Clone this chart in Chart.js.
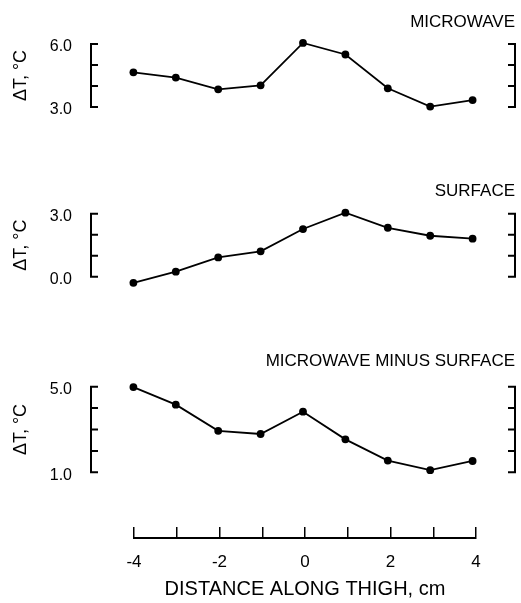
<!DOCTYPE html>
<html>
<head>
<meta charset="utf-8">
<script src="https://cdn.jsdelivr.net/npm/chart.js@4/dist/chart.umd.min.js"></script>
<style>
  body { margin: 0; background: #fff; }
  #wrap { position: relative; width: 521px; height: 603px; }
  canvas { position: absolute; left: 0; }
</style>
</head>
<body>
<div id="wrap">
  <canvas id="c1" width="521" height="150" style="top:0px"></canvas>
  <canvas id="c2" width="521" height="170" style="top:150px"></canvas>
  <canvas id="c3" width="521" height="220" style="top:300px"></canvas>
  <canvas id="c4" width="521" height="103" style="top:500px"></canvas>
</div>
<script>
// distance along thigh, cm
const distances = [-4, -3, -2, -1, 0, 1, 2, 3, 4];

// temperature rise, deg C
const microwave  = [4.65, 4.4, 3.84, 4.03, 6.05, 5.5, 3.89, 3.02, 3.33];
const surface    = [-0.29, 0.24, 0.92, 1.21, 2.27, 3.05, 2.33, 1.95, 1.81];
const difference = [4.98, 4.16, 2.94, 2.79, 3.83, 2.54, 1.55, 1.1, 1.53];

// y axis ranges (first and last are labelled), ticks every 1 deg
const microwaveRange  = [3, 6];
const surfaceRange    = [0, 3];
const differenceRange = [1, 5];
const Y_STEP = 1;

const xTickLabels = ["-4", "-2", "0", "2", "4"];

// extra room round each y range so end points are not cut off
const MARGIN = 0.4;

const FONT = "'Liberation Sans', Arial, sans-serif";
Chart.defaults.font.family = FONT;
Chart.defaults.color = "#000";

// bracket style axes: both vertical lines and inward ticks
const bracketTicks = {
    id: "bracketTicks",
    afterDraw(chart) {
        const y = chart.scales.y;
        const a = chart.chartArea;
        const ctx = chart.ctx;
        const range = chart.options.plugins.bracketTicks.range;
        const top = y.getPixelForValue(range[1]);
        const bottom = y.getPixelForValue(range[0]);
        ctx.save();
        ctx.strokeStyle = "#000";
        ctx.lineWidth = 2;
        ctx.beginPath();
        ctx.moveTo(a.left, top - 1);
        ctx.lineTo(a.left, bottom + 1);
        ctx.moveTo(a.right, top - 1);
        ctx.lineTo(a.right, bottom + 1);
        y.ticks.forEach(t => {
            const py = y.getPixelForValue(t.value);
            ctx.moveTo(a.left, py);
            ctx.lineTo(a.left + 7, py);
            ctx.moveTo(a.right - 7, py);
            ctx.lineTo(a.right, py);
        });
        ctx.stroke();
        ctx.restore();
    }
};

function panel(id, title, values, range, pad, titlePad) {
    return new Chart(document.getElementById(id), {
        type: "line",
        data: {
            datasets: [{
                data: distances.map((d, i) => ({ x: d, y: values[i] })),
                borderColor: "#000",
                borderWidth: 1.8,
                pointRadius: 3.9,
                pointBackgroundColor: "#000",
                pointBorderWidth: 0,
                tension: 0,
                clip: false
            }]
        },
        options: {
            responsive: false,
            animation: false,
            layout: { padding: pad },
            plugins: {
                legend: { display: false },
                tooltip: { enabled: false },
                bracketTicks: { range: range },
                title: {
                    display: true,
                    text: title,
                    align: "end",
                    color: "#000",
                    font: { size: 17, weight: "normal" },
                    padding: titlePad
                }
            },
            scales: {
                x: { type: "linear", min: -5, max: 5, display: false },
                y: {
                    min: range[0] - MARGIN,
                    max: range[1] + MARGIN,
                    afterFit: s => { s.width = 91; },
                    afterBuildTicks: s => {
                        const ticks = [];
                        for (let v = range[0]; v <= range[1] + 1e-9; v += Y_STEP) ticks.push({ value: v });
                        s.ticks = ticks;
                    },
                    ticks: {
                        autoSkip: false,
                        padding: 19,
                        labelOffset: 3,
                        font: { size: 16 },
                        callback: v => (v === range[0] || v === range[1]) ? v.toFixed(1) : ""
                    },
                    grid: { drawOnChartArea: false, drawTicks: false },
                    border: { display: false },
                    title: {
                        display: true,
                        text: "ΔT, °C",
                        font: { size: 18 },
                        padding: { top: 10.7, bottom: 0 }
                    }
                }
            }
        },
        plugins: [bracketTicks]
    });
}

panel("c1", "MICROWAVE", microwave, microwaveRange,
    { top: 0, right: 6, bottom: 34.6, left: 0 }, { top: 12, bottom: 3.2 });
panel("c2", "SURFACE", surface, surfaceRange,
    { top: 0, right: 6, bottom: 34.9, left: 0 }, { top: 31.3, bottom: 3.6 });
panel("c3", "MICROWAVE MINUS SURFACE", difference, differenceRange,
    { top: 0, right: 6, bottom: 39.1, left: 0 }, { top: 51.3, bottom: 6.4 });

// shared distance axis at the bottom
new Chart(document.getElementById("c4"), {
    type: "line",
    data: { datasets: [] },
    options: {
        responsive: false,
        animation: false,
        layout: { padding: { top: 27, left: 134, right: 45, bottom: 0 } },
        plugins: { legend: { display: false }, tooltip: { enabled: false } },
        scales: {
            y: { display: false, min: 0, max: 1 },
            x: {
                type: "linear",
                min: -4,
                max: 4,
                afterFit: s => { s.height = 65.3; },
                ticks: {
                    stepSize: 1,
                    autoSkip: false,
                    maxRotation: 0,
                    padding: 14,
                    font: { size: 17 },
                    callback: v => xTickLabels.includes(String(v)) ? String(v) : ""
                },
                grid: { drawOnChartArea: true, drawTicks: false, color: "#000", lineWidth: 1.5 },
                border: { display: true, color: "#000", width: 2 },
                title: {
                    display: true,
                    text: "DISTANCE ALONG THIGH, cm",
                    font: { size: 20 },
                    padding: { top: 4, bottom: 1.6 }
                }
            }
        }
    }
});
</script>
</body>
</html>
